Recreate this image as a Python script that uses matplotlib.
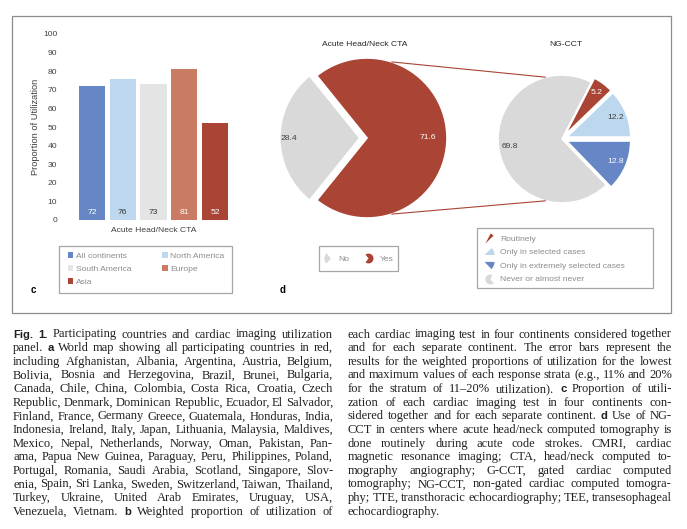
import numpy as np
import matplotlib
matplotlib.use('Agg')
import matplotlib.pyplot as plt
from matplotlib.patches import Rectangle, Patch, ConnectionPatch
from matplotlib.lines import Line2D
from matplotlib.path import Path

W, H = 687, 529

# panel c
continents = ['All continents', 'North America', 'South America', 'Europe', 'Asia']
cta_use = [72, 76, 73, 81, 52]
bar_colors = ['#6686C6', '#BDD7EE', '#E4E4E4', '#C97B63', '#AA4435']
bar_text = ['white', '#333333', '#333333', 'white', 'white']

# panel d
cta_labels = ['No', 'Yes']
cta_share = [28.4, 71.6]
ngcct_labels = ['Routinely', 'Only in selected cases',
                'Only in extremely selected cases', 'Never or almost never']
ngcct_share = [5.2, 12.2, 12.8, 69.8]

GRAY = '#D9D9D9'
RED = '#AA4435'
cta_colors = [GRAY, RED]
ngcct_colors = [RED, '#BDD7EE', '#6686C6', GRAY]

# caption, one list per column ('^' marks a bold word)
cap_left = [
    "^Fig. ^1. Participating countries and cardiac imaging utilization",
    "panel. ^a World map showing all participating countries in red,",
    "including Afghanistan, Albania, Argentina, Austria, Belgium,",
    "Bolivia, Bosnia and Herzegovina, Brazil, Brunei, Bulgaria,",
    "Canada, Chile, China, Colombia, Costa Rica, Croatia, Czech",
    "Republic, Denmark, Dominican Republic, Ecuador, El Salvador,",
    "Finland, France, Germany Greece, Guatemala, Honduras, India,",
    "Indonesia, Ireland, Italy, Japan, Lithuania, Malaysia, Maldives,",
    "Mexico, Nepal, Netherlands, Norway, Oman, Pakistan, Pan-",
    "ama, Papua New Guinea, Paraguay, Peru, Philippines, Poland,",
    "Portugal, Romania, Saudi Arabia, Scotland, Singapore, Slov-",
    "enia, Spain, Sri Lanka, Sweden, Switzerland, Taiwan, Thailand,",
    "Turkey, Ukraine, United Arab Emirates, Uruguay, USA,",
    "Venezuela, Vietnam. ^b Weighted proportion of utilization of",
]
cap_right = [
    "each cardiac imaging test in four continents considered together",
    "and for each separate continent. The error bars represent the",
    "results for the weighted proportions of utilization for the lowest",
    "and maximum values of each response strata (e.g., 11% and 20%",
    "for the stratum of 11\u201320% utilization). ^c Proportion of utili-",
    "zation of each cardiac imaging test in four continents con-",
    "sidered together and for each separate continent. ^d Use of NG-",
    "CCT in centers where acute head/neck computed tomography is",
    "done routinely during acute code strokes. CMRI, cardiac",
    "magnetic resonance imaging; CTA, head/neck computed to-",
    "mography angiography; G-CCT, gated cardiac computed",
    "tomography; NG-CCT, non-gated cardiac computed tomogra-",
    "phy; TTE, transthoracic echocardiography; TEE, transesophageal",
    "echocardiography.",
]


def fx(px):
    return px / W


def fy(py):
    return 1 - py / H


def box(l, t, r, b):
    return [fx(l), fy(b), (r - l) / W, (b - t) / H]


def frame(l, t, r, b, col='#A6A6A6', lw=0.9):
    fig.add_artist(Rectangle((fx(l), fy(b)), (r - l) / W, (b - t) / H, transform=fig.transFigure,
                             fill=False, ec=col, lw=lw))


plt.rcParams['font.family'] = 'Liberation Sans'
FS = 6.1
TXT = '#404040'
LEGTXT = '#8C8C8C'

fig = plt.figure(figsize=(W / 100, H / 100), dpi=100)
fig.patch.set_facecolor('white')

# frame around c and d
frame(12, 16, 671, 313, col='#8C8C8C')

## panel c: bar chart
axc = fig.add_axes(box(64.3, 34, 242.7, 220))
xpos = np.arange(len(continents))
axc.bar(xpos, cta_use, width=0.85, color=bar_colors)
for xi, v, tc in zip(xpos, cta_use, bar_text):
    axc.text(xi, 3.8, f'{v}', ha='center', va='center', fontsize=FS, color=tc)
axc.set_xlim(-0.9, 4.9)
axc.set_ylim(0, 100)
axc.set_yticks(range(0, 101, 10))
axc.set_xticks([])
axc.tick_params(axis='y', length=0, pad=5, labelsize=FS, labelcolor=TXT)
for s in axc.spines.values():
    s.set_visible(False)
axc.patch.set_alpha(0)
fig.text(fx(35), fy(127), 'Proportion of Utilization', rotation=90, ha='center', va='center',
         fontsize=6.7, color=TXT)
fig.text(fx(153.5), fy(231), 'Acute Head/Neck CTA', ha='center', va='center', fontsize=FS, color=TXT)

order = [0, 2, 4, 1, 3]
hc = [Patch(facecolor=bar_colors[i], edgecolor='none') for i in order]
lc = [continents[i] for i in order]
frame(59, 246, 232, 293)
leg = fig.legend(hc, lc, ncol=2, loc='upper left', bbox_to_anchor=(fx(67.5), fy(252)),
                 borderaxespad=0, borderpad=0, fontsize=FS, handlelength=0.65, handleheight=0.65,
                 handletextpad=0.3, columnspacing=3.7, labelspacing=0.64,
                 frameon=False, labelcolor=LEGTXT)

fig.text(fx(33), fy(290), 'c', ha='center', va='center', fontsize=7, weight='bold', color='black')

## panel d: two pies
ax1 = fig.add_axes(box(267, 38, 467, 238))
w1, _ = ax1.pie(cta_share, colors=cta_colors, startangle=180 - cta_share[0] * 1.8,
                explode=[0.09, 0], wedgeprops=dict(edgecolor='white', linewidth=1.2))
ax1.set_xlim(-1.25, 1.25)
ax1.set_ylim(-1.25, 1.25)
for w, d, tc, v in zip(w1, [0.89, 0.76], [TXT, 'white'], cta_share):
    a = np.deg2rad((w.theta1 + w.theta2) / 2)
    cx, cy = w.center
    ax1.text(cx + d * np.cos(a), cy + d * np.sin(a), f'{v:.1f}', ha='center', va='center',
             fontsize=FS, color=tc)

ax2 = fig.add_axes(box(482, 59, 642, 219))
w2, _ = ax2.pie(ngcct_share, colors=ngcct_colors, startangle=(ngcct_share[0] + ngcct_share[1]) * 3.6,
                counterclock=False, explode=[0.08, 0.08, 0.08, 0],
                wedgeprops=dict(edgecolor='white', linewidth=1.2))
ax2.set_xlim(-1.25, 1.25)
ax2.set_ylim(-1.25, 1.25)
for w, tc, v in zip(w2, ['white', TXT, 'white', TXT], ngcct_share):
    a = np.deg2rad((w.theta1 + w.theta2) / 2)
    cx, cy = w.center
    ax2.text(cx + 0.83 * np.cos(a), cy + 0.83 * np.sin(a), f'{v:.1f}', ha='center', va='center',
             fontsize=FS, color=tc)

fig.text(fx(365), fy(45), 'Acute Head/Neck CTA', ha='center', va='center', fontsize=FS, color='#262626')
fig.text(fx(566), fy(45), 'NG-CCT', ha='center', va='center', fontsize=FS, color='#262626')

# lines joining the "Yes" slice to the second pie
for a1, a2 in [(72, 105), (-72, -105)]:
    r1, r2 = np.deg2rad(a1), np.deg2rad(a2)
    con = ConnectionPatch(xyA=(np.cos(r1), np.sin(r1)), coordsA=ax1.transData,
                          xyB=(np.cos(r2), np.sin(r2)), coordsB=ax2.transData,
                          color=RED, lw=0.8)
    fig.add_artist(con)


def wedge_handle(t1, t2, col):
    # slice outline, recentred on its own bounding box so it fills the marker
    p = Path.wedge(t1, t2)
    v = p.vertices
    c = (v.min(axis=0) + v.max(axis=0)) / 2
    return Line2D([], [], ls='none', marker=Path(v - c, p.codes), markersize=7.2,
                  markerfacecolor=col, markeredgecolor='none')


h1 = [wedge_handle(w.theta1, w.theta2, c) for w, c in zip(w1, cta_colors)]
frame(319, 246, 398, 271)
leg1 = fig.legend(h1, cta_labels, ncol=2, loc='upper left', bbox_to_anchor=(fx(323), fy(255)),
                  borderaxespad=0, borderpad=0, fontsize=FS, handlelength=1.0, handletextpad=0.75,
                  columnspacing=1.9, frameon=False, labelcolor=LEGTXT)

h2 = [wedge_handle(w.theta1, w.theta2, c) for w, c in zip(w2, ngcct_colors)]
frame(477, 228, 653, 288)
leg2 = fig.legend(h2, ngcct_labels, ncol=1, loc='upper left', bbox_to_anchor=(fx(485), fy(235)),
                  borderaxespad=0, borderpad=0, fontsize=FS, handlelength=1.0, handletextpad=0.8,
                  labelspacing=0.66, frameon=False, labelcolor=LEGTXT)

fig.text(fx(283), fy(290), 'd', ha='center', va='center', fontsize=7, weight='bold', color='black')

## caption, justified in two columns
serif = dict(family='Liberation Serif', size=9.0, color='#231F20')
bold = dict(family='Liberation Sans', weight='bold', size=8.1, color='#231F20')
renderer = fig.canvas.get_renderer()


def put_line(line, x0, x1, y, justify=True):
    texts = []
    for word in line.split(' '):
        if word.startswith('^'):
            t = fig.text(0, fy(y), word[1:], ha='left', va='baseline', **bold)
        else:
            t = fig.text(0, fy(y), word, ha='left', va='baseline', **serif)
        texts.append(t)
    widths = [t.get_window_extent(renderer).width for t in texts]
    if justify and len(texts) > 1:
        gap = (x1 - x0 - sum(widths)) / (len(texts) - 1)
    else:
        gap = 3.0
    x = x0
    for t, w in zip(texts, widths):
        t.set_x(fx(x))
        x += w + gap


for i, line in enumerate(cap_left):
    put_line(line, 13, 333, 337.5 + i * 13.63)
for i, line in enumerate(cap_right):
    put_line(line, 348, 672, 337.5 + i * 13.63, justify=(i < len(cap_right) - 1))

fig.savefig('out.png', dpi=100, facecolor='white')
